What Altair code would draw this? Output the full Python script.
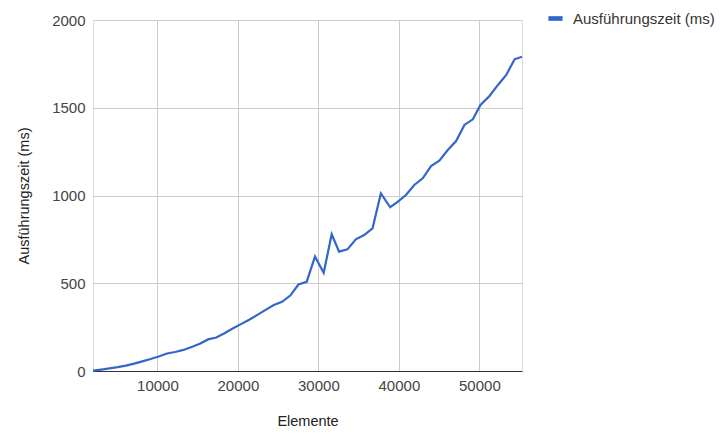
import altair as alt
import pandas as pd

# Values
elemente = [2000, 3021, 4042, 5063, 6084, 7105, 8126, 9147, 10168, 11189,
            12210, 13231, 14252, 15273, 16294, 17315, 18336, 19357, 20378, 21399,
            22420, 23441, 24462, 25483, 26504, 27525, 28546, 29576, 30660, 31657,
            32567, 33614, 34648, 35682, 36729, 37763, 38922, 39882, 40879, 41913,
            42960, 43994, 45028, 46075, 47109, 48143, 49190, 50137, 51259, 52305,
            53340, 54374, 55296]
zeit = [2, 8, 15, 22, 31, 42, 55, 68, 83, 100,
        108, 120, 137, 155, 180, 191, 215, 242, 267, 292,
        320, 348, 376, 394, 430, 493, 508, 652, 560, 779,
        680, 693, 750, 775, 813, 1012, 933, 965, 1003, 1060,
        1098, 1168, 1198, 1259, 1310, 1402, 1434, 1516, 1567, 1630,
        1687, 1776, 1791]
serie = "Ausführungszeit (ms)"
x_ticks = [10000, 20000, 30000, 40000, 50000]
y_ticks = [0, 500, 1000, 1500, 2000]

df = pd.DataFrame({"Elemente": elemente, "Zeit": zeit, "Serie": [serie] * len(zeit)})

FONT = "Liberation Sans"

chart = alt.Chart(df).mark_line(strokeWidth=2.2, interpolate="linear").encode(
    x=alt.X("Elemente:Q",
            scale=alt.Scale(domain=[2000, 55296], nice=False, zero=False),
            axis=alt.Axis(values=x_ticks, title="Elemente", format="d",
                          grid=True, gridColor="#cccccc", ticks=False,
                          domain=True, domainColor="#333333", domainWidth=1.2,
                          labelPadding=7, labelFontSize=15, labelColor="#444444",
                          labelFont=FONT, titleFont=FONT, titleFontSize=14.5,
                          titleFontWeight="normal", titleColor="#222222",
                          titlePadding=21)),
    y=alt.Y("Zeit:Q",
            scale=alt.Scale(domain=[0, 2000], nice=False),
            axis=alt.Axis(values=y_ticks, title="Ausführungszeit (ms)", format="d",
                          grid=True, gridColor="#cccccc", ticks=False, domain=False,
                          labelPadding=8, labelFontSize=15, labelColor="#444444",
                          labelFont=FONT, titleFont=FONT, titleFontSize=14.5,
                          titleFontWeight="normal", titleColor="#222222",
                          titlePadding=20)),
    color=alt.Color("Serie:N",
                    scale=alt.Scale(range=["#3366cc"]),
                    legend=alt.Legend(title=None, orient="none", legendX=455, legendY=-9,
                                      symbolType="M-1,-0.33H1V0.33H-1Z", symbolSize=200,
                                      symbolStrokeWidth=0, symbolFillColor="#3366cc",
                                      labelFont=FONT, labelFontSize=15,
                                      labelColor="#333333", labelOffset=10)),
).properties(
    width=429, height=351,
    autosize=alt.AutoSizeParams(type="none"),
    padding={"left": 93, "top": 20, "right": 201, "bottom": 65},
).configure_view(stroke=None).configure(background="white")

chart.save("out.html", embed_options={"renderer": "svg", "actions": False})
